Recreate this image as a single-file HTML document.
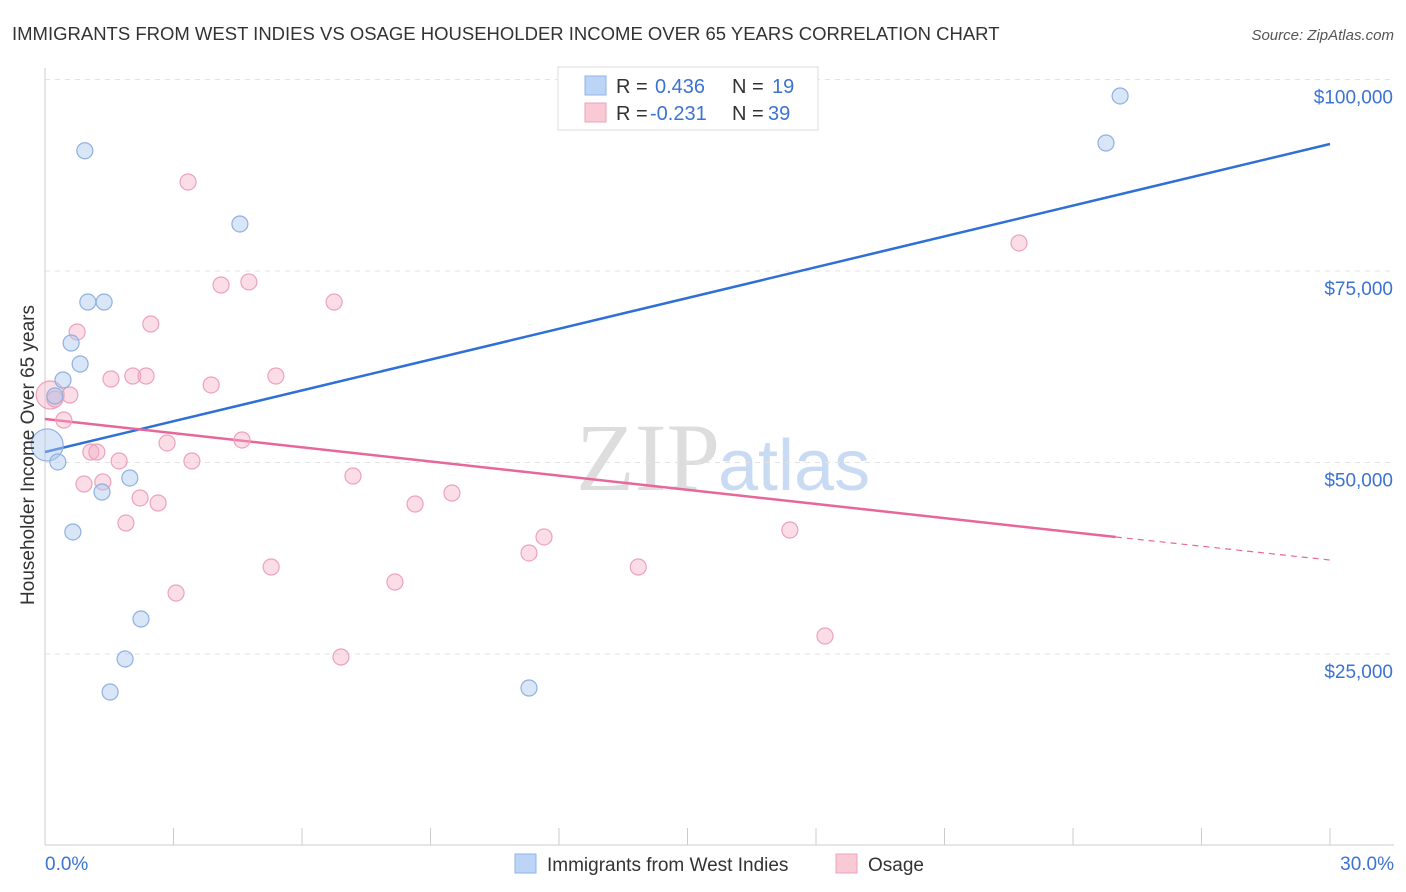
<!DOCTYPE html>
<html><head><meta charset="utf-8"><style>
body{margin:0;background:#fff;font-family:"Liberation Sans",sans-serif;}
svg{display:block}
</style></head><body>
<svg id="chart" width="1406" height="892" xmlns="http://www.w3.org/2000/svg">
<text x="12" y="40" font-size="18.5" fill="#333">IMMIGRANTS FROM WEST INDIES VS OSAGE HOUSEHOLDER INCOME OVER 65 YEARS CORRELATION CHART</text>
<text x="1394" y="40" font-size="15" fill="#555" font-style="italic" text-anchor="end">Source: ZipAtlas.com</text>
<text x="720" y="490" font-size="96" fill="#ddd" font-family="Liberation Serif,serif" text-anchor="end">ZIP</text>
<text x="718" y="490" font-size="72" fill="#c9dbf2">atlas</text>
<g id="grid"></g><g id="lines"></g><g id="pts"></g>
<text transform="translate(34,455) rotate(-90)" font-size="19" fill="#333" text-anchor="middle">Householder Income Over 65 years</text>
<g>
<rect x="558" y="67" width="260" height="63" fill="#fff" stroke="#ddd"/>
<rect x="585" y="76" width="21" height="19" fill="#bcd4f6" stroke="#8fb3e8"/>
<rect x="585" y="103" width="21" height="19" fill="#f9c9d6" stroke="#eea3b8"/>
<text x="616" y="93" font-size="20" fill="#333">R = <tspan fill="#3b73d1" x="655">0.436</tspan><tspan x="732" fill="#333">N = </tspan><tspan x="772" fill="#3b73d1">19</tspan></text>
<text x="616" y="120" font-size="20" fill="#333">R = <tspan fill="#3b73d1" x="650">-0.231</tspan><tspan x="732" fill="#333">N = </tspan><tspan x="768" fill="#3b73d1">39</tspan></text>
</g>
<g>
<rect x="515" y="854" width="21" height="19" fill="#bcd4f6" stroke="#8fb3e8"/>
<text x="547" y="871" font-size="19" fill="#333">Immigrants from West Indies</text>
<rect x="836" y="854" width="21" height="19" fill="#f9c9d6" stroke="#eea3b8"/>
<text x="868" y="871" font-size="19" fill="#333">Osage</text>
</g>
</svg>
<script>
const blueX=[0.93,4.55,1.00,1.38,0.61,0.82,0.42,0.23,0.05,0.30,1.33,1.98,0.65,2.24,1.87,1.52,11.30,24.77,25.10];
const blueY=[90700,81140,70950,70950,65600,62860,60770,58680,52290,50070,46150,47980,40930,29570,24350,20040,20560,91710,97850];
const blueR=[8,8,8,8,8,8,8,8,16,8,8,8,8,8,8,8,8,8,8];
const pinkX=[3.34,22.74,4.11,4.76,6.75,2.47,0.75,1.54,2.05,2.36,3.88,5.39,0.12,0.58,0.44,2.85,4.60,1.07,1.21,1.73,3.43,7.19,0.91,1.35,2.22,2.64,8.64,9.50,1.89,17.39,11.65,11.30,5.28,13.85,8.17,3.06,18.21,6.91,0.23];
const pinkY=[86620,78660,73170,73570,70950,68080,67040,60900,61290,61290,60120,61290,58810,58810,55550,52550,52940,51370,51370,50200,50200,48240,47190,47460,45370,44710,44580,46020,42100,41190,40280,38190,36360,36360,34400,32960,27350,24610,58290];
const pinkR=[8,8,8,8,8,8,8,8,8,8,8,8,14,8,8,8,8,8,8,8,8,8,8,8,8,8,8,8,8,8,8,8,8,8,8,8,8,8,8];
const yTicks=[25000,50000,75000,100000];
const yTickLabels=["$25,000","$50,000","$75,000","$100,000"];
const xTicks=[0,3,6,9,12,15,18,21,24,27,30];
const blueTrend=[51370,91580];
const pinkTrend=[55680,40275,37270];
const X=v=>45+v*(1285/30), Y=v=>845.5-v*(191.5/25000);
const NS="http://www.w3.org/2000/svg";
function mk(p,t,a){const e=document.createElementNS(NS,t);for(const k in a)e.setAttribute(k,a[k]);p.appendChild(e);return e;}
const g=document.getElementById('grid'),L=document.getElementById('lines'),P=document.getElementById('pts');
yTicks.forEach((v,i)=>{
 const l=mk(g,'line',{x1:45,x2:1394,y1:Y(v),y2:Y(v),stroke:'#e3e3e3','stroke-dasharray':'5,5'});
 
 
 const t=mk(g,'text',{x:1393,y:Y(v)+24,'font-size':19,fill:'#3b73d1','text-anchor':'end'});t.textContent=yTickLabels[i];
 
 
});
const ax=mk(g,'line',{x1:45,x2:45,y1:68,y2:845,stroke:'#ccc'});


const bx=mk(g,'line',{x1:45,x2:1394,y1:845,y2:845,stroke:'#ccc'});


xTicks.forEach(v=>{const t=mk(g,'line',{x1:X(v),x2:X(v),y1:828,y2:845,stroke:'#ccc'});
 
 });
const x0=mk(g,'text',{x:45,y:870,'font-size':19,fill:'#3b73d1'});x0.textContent='0.0%';


const x1=mk(g,'text',{x:1394,y:870,'font-size':19,fill:'#3b73d1','text-anchor':'end'});x1.textContent='30.0%';


const bl=mk(L,'line',{x1:X(0),y1:Y(blueTrend[0]),x2:X(30),y2:Y(blueTrend[1]),stroke:'#2f6fd6','stroke-width':2.5});


const pl=mk(L,'line',{x1:X(0),y1:Y(pinkTrend[0]),x2:X(25),y2:Y(pinkTrend[1]),stroke:'#e8679a','stroke-width':2.5});


const pd=mk(L,'line',{x1:X(25),y1:Y(pinkTrend[1]),x2:X(30),y2:Y(pinkTrend[2]),stroke:'#e8679a','stroke-width':1.2,'stroke-dasharray':'6,5'});


pinkX.forEach((v,i)=>{const c=mk(P,'circle',{cx:X(v),cy:Y(pinkY[i]),r:pinkR[i],fill:'rgba(245,170,195,0.4)',stroke:'#eda2b9','stroke-width':1.2});
 
 });
blueX.forEach((v,i)=>{const c=mk(P,'circle',{cx:X(v),cy:Y(blueY[i]),r:blueR[i],fill:'rgba(170,200,240,0.45)',stroke:'#8fb0e0','stroke-width':1.2});
 
 });
</script>
</body></html>
